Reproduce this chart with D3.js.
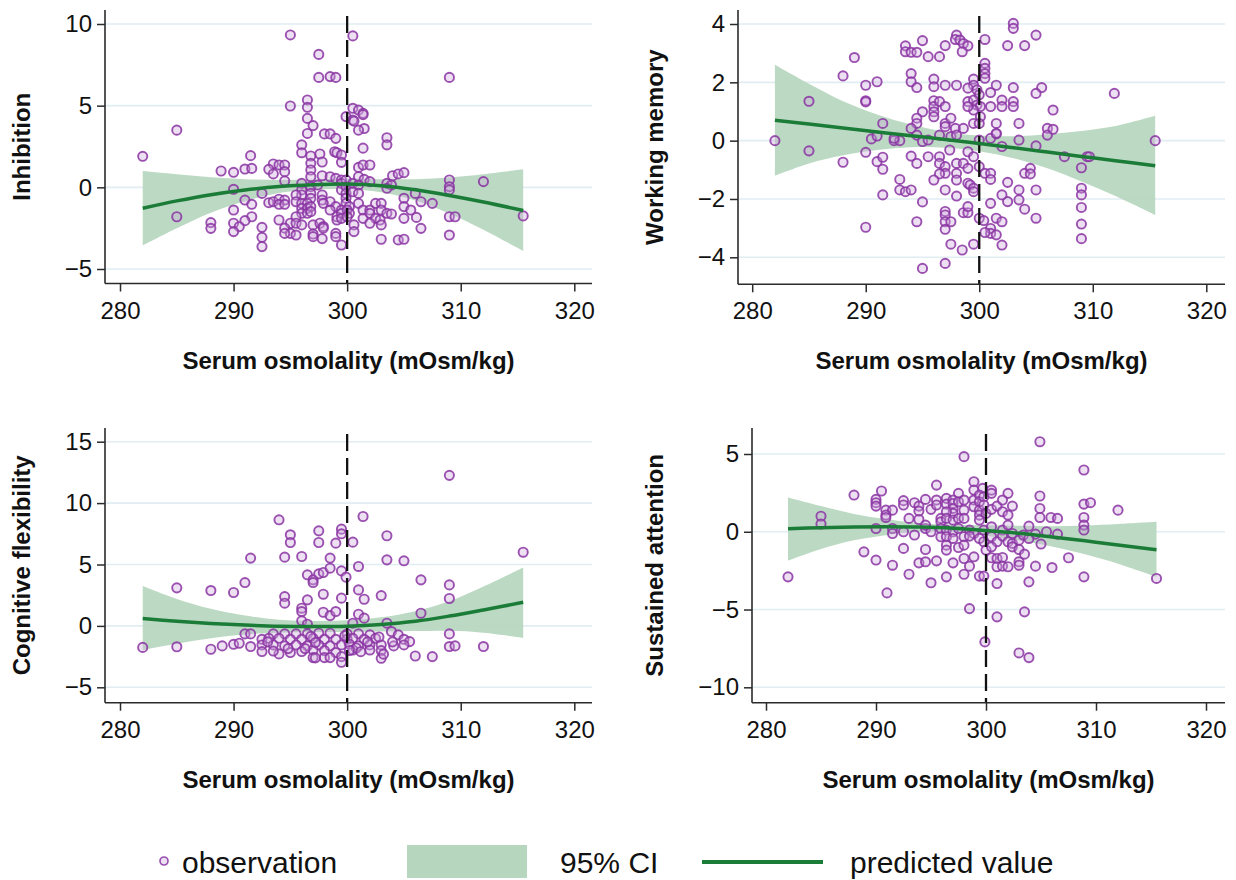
<!DOCTYPE html>
<html><head><meta charset="utf-8">
<script src="https://cdn.jsdelivr.net/npm/d3@7"></script>
<style>body{margin:0;background:#fff}</style>
</head><body>
<svg id="chart" width="1236" height="880"></svg>
<script>
// ---------------- DATA ----------------
const xTicks = [280, 290, 300, 310, 320];
const cutoff = 300;
const fitX = [282, 285, 288, 291, 294, 297, 300, 303, 306, 309, 312, 315.5];

// Inhibition
const inhibitionTicks = [-5, 0, 5, 10];
const inhibitionFit = [-1.28, -0.83, -0.45, -0.16, 0.05, 0.16, 0.2, 0.1, -0.15, -0.5, -0.9, -1.42];
const inhibitionHi  = [1.0, 0.8, 0.62, 0.5, 0.45, 0.48, 0.52, 0.5, 0.5, 0.6, 0.8, 1.1];
const inhibitionLo  = [-3.55, -2.5, -1.55, -0.85, -0.35, -0.15, -0.12, -0.3, -0.8, -1.6, -2.6, -3.9];
const inhibitionObs = [
[295.0,9.33],[300.5,9.27],[297.5,8.14],[297.5,6.73],[298.5,6.78],[299.0,6.73],[309.0,6.73],
[296.5,5.35],[296.5,4.9],[295.0,4.98],[296.5,4.22],[297.0,3.78],
[300.5,4.84],[301.0,4.73],[301.4,4.53],[301.4,4.45],[299.9,4.33],[300.5,4.12],[300.6,4.05],[301.5,3.6],[301.0,3.5],
[296.5,3.3],[298.0,3.27],[298.5,3.27],[299.0,3.0],[303.5,3.04],[303.5,2.6],
[296.0,2.6],[296.0,2.12],[301.4,2.4],
[296.8,1.92],[297.6,2.04],[298.9,2.18],[299.1,2.12],[299.5,1.98],[291.5,1.94],
[296.8,1.47],[297.8,1.55],[299.5,1.53],[293.5,1.43],[294.0,1.37],[294.5,1.37],[293.1,1.1],
[291.0,1.12],[291.6,1.16],[288.9,1.0],[290.0,0.92],[294.5,0.96],[293.5,0.82],
[296.8,1.06],[296.8,0.65],[297.8,0.71],[298.5,0.65],[299.0,0.55],[299.5,0.45],
[301.0,1.22],[301.4,1.37],[302.0,1.37],[301.0,0.65],[301.5,0.49],[302.0,0.35],
[304.0,0.71],[304.5,0.82],[305.0,0.9],[303.5,0.24],[303.9,0.14],[303.5,-0.06],
[294.5,0.39],[290.0,-0.12],
[296.0,0.24],[296.0,-0.16],[296.0,-0.47],[296.8,0.04],[296.8,-0.37],[296.8,-0.67],[297.4,0.14],
[299.5,0.24],[299.5,-0.16],[299.9,0.45],[299.9,0.04],[299.9,-0.37],[299.9,-0.67],[299.9,-0.98],[300.2,-1.18],
[300.5,0.24],[300.5,-0.27],[301.0,0.14],[301.0,-0.37],
[292.5,-0.37],[291.0,-0.78],[291.6,-1.04],
[293.1,-0.94],[293.5,-0.88],[294.0,-0.73],[294.5,-0.78],[294.0,-1.04],[294.5,-1.04],
[295.5,-0.47],[295.5,-0.88],
[296.0,-0.98],[296.5,-0.98],[296.0,-1.29],[296.5,-1.29],[296.0,-1.59],[296.5,-1.59],[296.8,-1.18],[296.8,-1.49],
[297.8,-0.47],[297.8,-0.78],[298.5,-0.88],[299.0,-1.18],[299.5,-1.39],[298.5,-1.39],[297.9,-0.98],
[290.0,-1.39],[290.0,-2.2],[291.6,-1.8],[291.0,-2.04],[290.5,-2.41],
[288.0,-2.16],[288.0,-2.51],[290.0,-2.71],[292.5,-2.45],[292.5,-3.06],[292.5,-3.63],
[294.0,-2.0],[295.0,-2.2],[294.5,-2.5],[295.5,-1.8],[295.5,-2.2],[295.0,-2.82],[294.5,-2.82],[295.5,-2.92],
[296.0,-2.3],[297.0,-2.3],[297.6,-2.2],[297.9,-2.4],[297.9,-2.5],
[297.0,-2.86],[297.0,-3.02],[297.8,-3.14],[299.0,-2.82],[299.0,-3.02],[299.5,-3.53],
[299.1,-1.8],[299.1,-2.0],[299.5,-1.59],[299.5,-1.9],[300.0,-1.39],[300.2,-1.59],[300.0,-1.8],
[300.6,-2.3],[300.6,-2.71],
[301.0,-0.98],[301.4,-1.39],[301.4,-1.9],[302.0,-1.39],[302.0,-1.59],[302.5,-1.9],[302.9,-2.0],[302.5,-0.98],[303.0,-0.98],[303.0,-1.39],
[302.0,-2.2],[303.0,-2.3],[303.5,-1.59],[303.9,-1.63],[303.0,-3.18],[304.5,-3.22],[305.0,-3.18],
[305.0,-0.67],[305.0,-1.18],[305.0,-1.9],[305.6,-1.39],[306.0,-0.37],[306.5,-0.88],[307.5,-0.98],
[306.1,-1.84],[306.5,-2.51],
[309.0,0.45],[309.0,0.04],[309.0,-0.16],[309.0,-1.8],[309.5,-1.8],[309.0,-2.92],
[312.0,0.35],[282.0,1.9],[285.0,3.5],[285.0,-1.8],[315.5,-1.75]
];

// Working memory
const memoryTicks = [-4, -2, 0, 2, 4];
const memoryFit = [0.7, 0.57, 0.43, 0.3, 0.17, 0.04, -0.1, -0.24, -0.39, -0.54, -0.69, -0.86];
const memoryHi  = [2.6, 1.95, 1.35, 0.9, 0.55, 0.3, 0.18, 0.15, 0.22, 0.33, 0.5, 0.85];
const memoryLo  = [-1.2, -0.78, -0.5, -0.32, -0.23, -0.24, -0.36, -0.6, -0.95, -1.4, -1.9, -2.55];
const memoryObs = [
[303.0,4.02],[303.0,3.85],[305.0,3.62],
[298.0,3.62],[297.9,3.47],[298.3,3.45],[298.6,3.33],[299.0,3.25],[298.5,3.05],
[300.5,3.47],[302.5,3.26],[304.0,3.26],
[295.0,3.43],[297.0,3.26],[296.5,2.88],[295.5,2.88],
[293.5,3.25],[293.5,3.05],[294.0,3.03],[294.5,3.03],
[289.0,2.85],[288.0,2.22],[290.0,1.9],[291.0,2.02],
[294.0,2.3],[294.0,2.02],[294.5,1.82],
[296.0,2.11],[296.0,1.85],[297.0,1.9],[298.0,1.9],
[299.5,2.11],[299.5,1.9],[299.8,1.74],[299.0,1.8],[300.0,1.57],
[300.5,2.65],[300.5,2.48],[300.5,2.3],[300.5,2.14],
[301.5,1.9],[301.0,1.65],[303.0,1.82],[305.5,1.82],[305.0,1.62],
[290.0,1.37],[290.0,1.33],
[296.0,1.37],[296.0,1.17],[296.5,1.34],[297.0,1.17],[296.0,0.99],[296.0,0.82],[295.0,0.99],[294.5,0.77],[294.5,0.59],
[299.0,1.34],[299.5,1.39],[299.8,1.22],[300.1,1.17],[299.5,1.05],[300.1,0.82],[299.0,1.17],
[301.0,1.17],[302.0,1.39],[302.0,1.17],[303.0,1.34],[303.0,1.17],[303.5,0.59],[306.5,1.05],
[297.0,0.59],[297.0,0.48],[297.5,0.77],[297.9,0.42],[298.6,0.42],[299.5,0.59],[300.0,0.59],[301.5,0.59],[301.5,0.23],
[291.5,0.59],[294.0,0.42],[294.5,0.19],[295.0,-0.03],
[290.5,0.06],[291.0,0.16],[292.5,0.0],[293.0,0.0],[292.5,0.08],
[295.5,0.02],[296.5,0.19],[297.5,0.14],[298.0,0.19],
[300.0,0.02],[301.0,0.08],[301.5,0.25],[302.0,-0.2],[303.5,0.02],[305.0,-0.18],
[306.0,0.42],[306.0,0.19],[306.5,0.39],[307.5,-0.55],[309.5,-0.55],[309.0,-0.93],
[311.9,1.62],
[290.0,-0.4],[288.0,-0.74],[291.0,-0.72],[291.5,-0.57],[291.5,-0.98],
[294.0,-0.53],[294.5,-0.78],[295.5,-0.55],[296.5,-0.55],[296.5,-0.78],[297.0,-0.89],[297.4,-0.32],
[298.0,-0.78],[298.6,-0.78],[299.0,-0.95],[299.0,-0.38],[299.5,-0.55],
[297.0,-1.12],[296.5,-1.14],[296.0,-1.35],[298.0,-1.12],[298.0,-1.35],[299.0,-1.46],[299.2,-1.52],[299.5,-1.63],[299.5,-1.75],
[300.0,-0.89],[300.5,-1.12],[301.0,-1.12],[301.0,-1.33],
[302.5,-1.43],[303.5,-1.69],[304.0,-1.12],[304.5,-0.95],[304.5,-1.14],[305.0,-1.69],
[293.0,-1.33],[293.0,-1.69],[293.5,-1.75],[294.0,-1.69],[291.5,-1.86],
[297.0,-1.69],[298.0,-1.9],[295.0,-2.1],
[298.6,-2.47],[299.0,-2.47],[299.0,-2.26],[297.0,-2.43],[297.0,-2.55],[297.0,-2.78],[297.5,-2.78],[297.0,-3.04],
[300.0,-2.66],[300.4,-2.74],[301.0,-3.01],[301.0,-3.18],[300.5,-3.15],[301.5,-2.66],[302.0,-2.78],[301.5,-3.23],
[301.0,-2.15],[302.0,-1.86],[302.5,-2.09],[303.5,-2.03],[304.0,-2.35],[305.0,-2.66],
[294.5,-2.78],[290.0,-2.97],
[297.5,-3.55],[298.5,-3.75],[299.5,-3.55],[302.0,-3.58],
[295.0,-4.38],[297.0,-4.21],
[309.0,-1.63],[309.0,-1.86],[309.0,-2.29],[309.0,-2.86],[309.0,-3.36],
[282.0,0.0],[285.0,1.35],[285.0,-0.35],[315.5,0.0],[309.7,-0.55]
];

// Cognitive flexibility
const flexTicks = [-5, 0, 5, 10, 15];
const flexFit = [0.6, 0.38, 0.2, 0.07, -0.02, -0.05, -0.02, 0.12, 0.38, 0.8, 1.3, 1.92];
const flexHi  = [3.25, 2.2, 1.4, 0.85, 0.5, 0.4, 0.45, 0.7, 1.2, 2.0, 3.2, 4.75];
const flexLo  = [-1.95, -1.45, -1.0, -0.7, -0.55, -0.5, -0.5, -0.45, -0.42, -0.4, -0.55, -0.97];
const flexObs = [
[309.0,12.26],[294.0,8.64],[301.4,8.91],
[295.0,7.42],[295.0,6.79],[297.5,7.74],[297.5,6.79],[299.5,7.88],[299.5,7.5],[299.0,6.74],[300.5,6.82],[303.5,7.34],
[291.5,5.52],[294.5,5.6],[296.0,5.65],[298.5,5.52],[303.5,5.38],[305.0,5.3],
[296.5,4.16],[297.0,3.75],[297.0,3.53],[297.5,4.24],[297.9,4.35],[298.5,4.7],[299.5,4.48],[299.9,3.97],
[301.0,4.84],[301.0,2.93],[301.5,2.17],[303.0,2.47],[299.5,2.26],[297.9,2.58],[296.5,2.12],[294.5,2.39],[294.5,1.85],
[291.0,3.53],[290.0,2.72],[288.0,2.88],
[306.5,3.75],[309.0,3.34],[309.0,2.23],
[296.0,1.44],[296.0,1.17],[297.9,1.11],[298.5,0.84],[299.0,1.17],[301.0,0.95],[301.5,0.63],[300.5,0.22],[303.5,0.22],
[306.5,1.03],[296.0,0.41],[296.5,0.14],
[309.0,-0.65],[309.0,-1.68],[309.5,-1.63],[312.0,-1.68],
[306.0,-2.45],[307.5,-2.5],[288.0,-1.9],[289.0,-1.63],[290.0,-1.5],
[291.0,-0.65],[291.5,-0.65],[293.5,-0.65],[294.5,-0.65],[295.5,-0.65],[296.5,-0.65],[297.5,-0.6],[298.5,-0.6],[300.0,-0.65],[301.0,-0.65],[302.0,-0.73],[303.9,-0.46],[304.5,-0.73],
[292.5,-1.09],[293.1,-1.01],[294.0,-1.01],[295.0,-1.09],[296.0,-1.09],[297.0,-1.01],[298.0,-1.09],[299.0,-1.09],[300.0,-1.09],[300.5,-1.01],[301.5,-1.09],[302.5,-1.01],[305.0,-1.09],[305.5,-1.28],
[290.5,-1.41],[291.5,-1.68],[292.5,-1.55],[293.5,-1.55],[294.5,-1.63],[295.5,-1.55],[296.5,-1.63],[297.5,-1.55],[298.5,-1.63],[299.5,-1.55],[300.2,-1.49],[301.0,-1.63],[302.0,-1.55],[303.0,-1.55],[304.1,-1.63],[305.0,-1.55],
[292.5,-2.09],[294.0,-2.28],[295.0,-2.17],[296.0,-2.09],[297.0,-1.96],[298.0,-2.01],[299.0,-2.17],[300.5,-1.96],[302.0,-1.96],[303.0,-2.01],
[297.0,-2.58],[298.0,-2.58],[298.5,-2.58],[303.0,-2.64],[299.5,-2.5],[299.5,-2.96],
[293.0,-1.3],[296.8,-0.85],[297.2,-1.35],[299.8,-0.8],[300.8,-1.8],[301.8,-1.3],[302.8,-0.9],[303.2,-2.3],[304.0,-1.3],
[297.2,-2.6],[296.3,-1.85],[294.8,-1.85],[300.2,-2.0],[301.2,-2.1],[293.5,-2.05],
[282.0,-1.75],[285.0,3.1],[285.0,-1.7],[315.5,6.0]
];

// Sustained attention
const attentionTicks = [-10, -5, 0, 5];
const attentionFit = [0.2, 0.26, 0.3, 0.32, 0.3, 0.23, 0.08, -0.1, -0.33, -0.58, -0.85, -1.15];
const attentionHi  = [2.2, 1.65, 1.15, 0.8, 0.55, 0.45, 0.42, 0.38, 0.35, 0.4, 0.5, 0.64];
const attentionLo  = [-1.85, -1.1, -0.55, -0.2, 0.02, 0.02, -0.25, -0.55, -0.95, -1.45, -2.05, -2.9];
const attentionObs = [
[304.9,5.79],[298.0,4.83],[308.9,3.97],
[298.9,3.22],[298.9,2.68],[295.5,3.0],[297.5,2.47],[299.7,2.79],[300.5,2.68],[300.5,2.47],
[288.0,2.36],[290.5,2.62],[290.0,2.08],[290.0,1.87],[290.0,1.65],[290.9,1.39],[291.5,1.39],[290.9,1.07],[290.9,0.92],
[292.5,2.0],[292.5,1.72],[293.5,1.87],[293.9,1.65],[293.9,1.33],[294.5,2.08],[295.0,1.44],[295.5,2.04],[295.5,1.72],
[296.4,2.15],[296.4,1.78],[297.0,2.04],[297.0,1.82],[297.0,1.5],[297.0,1.18],[297.5,1.93],[298.0,2.04],[298.0,1.39],
[296.4,1.29],[295.9,0.86],[295.9,0.64],[296.4,0.86],[297.0,0.75],[297.5,0.86],[298.0,0.86],
[298.9,2.04],[298.9,1.61],[299.4,2.36],[299.4,1.93],[299.4,1.39],[299.4,1.07],[299.4,0.75],[299.8,2.25],[299.8,1.72],
[300.0,1.18],[300.5,1.44],[301.0,1.65],[301.5,2.04],[302.0,2.47],[301.5,1.29],[302.0,1.07],[302.4,1.65],
[304.9,2.3],[304.9,1.5],[304.9,0.92],[305.9,0.92],[306.5,0.86],[308.9,1.78],[309.5,1.87],[308.9,0.92],[308.9,0.43],[308.9,0.11],[312.0,1.39],
[290.0,0.21],[291.5,0.21],[291.5,-0.11],[292.5,0.0],[293.5,-0.21],[294.5,0.21],[295.0,0.0],
[293.0,0.86],[293.9,0.79],[294.5,0.43],
[295.9,0.21],[296.4,0.11],[297.0,0.0],[297.5,0.21],[298.5,0.11],[298.9,-0.11],[299.8,0.11],[300.5,0.32],[301.5,0.11],[302.0,0.43],[302.4,-0.11],[303.9,0.36],[304.5,-0.15],[305.5,0.0],[306.5,-0.15],
[295.9,-0.32],[296.4,-0.32],[297.0,-0.43],[298.0,-0.32],[298.5,-0.28],[299.4,-0.43],[299.8,-0.64],[300.5,-0.32],[301.0,-0.64],[301.5,-0.28],[302.0,-0.64],[302.4,-0.75],[303.0,-0.54],[303.4,-0.21],[303.9,-0.43],[305.0,-0.79],
[288.9,-1.29],[290.0,-1.82],[291.5,-2.15],[292.5,-1.07],[293.0,-2.73],[293.9,-2.0],[294.5,-1.14],[294.5,-1.93],[295.0,-3.28],[295.5,-1.87],
[296.4,-0.86],[296.4,-1.18],[296.4,-2.9],[297.0,-2.0],[297.5,-1.01],[298.0,-0.86],[298.0,-1.72],[298.0,-2.73],[298.5,-2.21],[298.9,-1.61],
[299.4,-2.85],[299.8,-2.85],[300.0,-1.18],[300.5,-0.97],[300.5,-1.67],[301.0,-1.72],[301.0,-2.25],[301.0,-3.33],[301.5,-1.65],[301.5,-2.21],[302.0,-2.25],
[302.4,-0.97],[303.0,-1.14],[303.0,-1.93],[303.0,-2.15],[303.5,-1.44],[303.9,-3.22],[304.5,-2.21],[306.0,-2.3],[307.5,-1.67],[308.9,-2.9],
[291.0,-3.93],[298.5,-4.94],[301.0,-5.47],[303.5,-5.15],[299.9,-7.08],[303.0,-7.79],[303.9,-8.09],
[282.0,-2.9],[285.0,1.0],[285.0,0.5],[315.5,-3.0]
];

// ---------------- LAYOUT ----------------
const FONT = "'Liberation Sans', Arial, Helvetica, sans-serif";
const COL = {
  grid: '#e1edf2', band: '#b6d6be', line: '#1b7c38',
  ptStroke: 'rgba(138,52,162,0.85)', ptFill: 'rgba(205,165,222,0.35)', axis: '#2b2b2b'
};
const panels = [
  {title:'Inhibition', obs:inhibitionObs, fit:inhibitionFit, hi:inhibitionHi, lo:inhibitionLo, yTicks:inhibitionTicks,
   axisX:105, right:592, top:10, axisY:283.5, x0:120, x1:574.3, yd:[-5,10], yr:[269,24], titleX:22},
  {title:'Working memory', obs:memoryObs, fit:memoryFit, hi:memoryHi, lo:memoryLo, yTicks:memoryTicks,
   axisX:738, right:1225, top:10, axisY:284.3, x0:752.2, x1:1206.3, yd:[-4,4], yr:[257.3,24], titleX:655},
  {title:'Cognitive flexibility', obs:flexObs, fit:flexFit, hi:flexHi, lo:flexLo, yTicks:flexTicks,
   axisX:105, right:592, top:428, axisY:702.7, x0:120, x1:574.3, yd:[-5,15], yr:[687.3,441.7], titleX:22},
  {title:'Sustained attention', obs:attentionObs, fit:attentionFit, hi:attentionHi, lo:attentionLo, yTicks:attentionTicks,
   axisX:752, right:1225, top:428, axisY:702.7, x0:766, x1:1206, yd:[-10,5], yr:[687.3,454], titleX:655}
];

const svg = d3.select('#chart');
svg.append('rect').attr('width',1236).attr('height',880).attr('fill','#fff');

panels.forEach(p => {
  const g = svg.append('g');
  const x = d3.scaleLinear().domain([xTicks[0], xTicks[xTicks.length-1]]).range([p.x0, p.x1]);
  const y = d3.scaleLinear().domain(p.yd).range(p.yr);

  g.selectAll('line.grid').data(p.yTicks).join('line')
    .attr('x1', p.axisX).attr('x2', p.right)
    .attr('y1', d => y(d)).attr('y2', d => y(d))
    .attr('stroke', COL.grid).attr('stroke-width', 1.6);

  const fitData = fitX.map((xv, i) => ({x: xv, f: p.fit[i], hi: p.hi[i], lo: p.lo[i]}));

  g.append('path').datum(fitData)
    .attr('d', d3.area().x(d => x(d.x)).y0(d => y(d.lo)).y1(d => y(d.hi)).curve(d3.curveCatmullRom))
    .attr('fill', COL.band).attr('opacity', 0.92);

  g.selectAll('circle.obs').data(p.obs).join('circle')
    .attr('cx', d => x(d[0])).attr('cy', d => y(d[1])).attr('r', 4.6)
    .attr('fill', COL.ptFill).attr('stroke', COL.ptStroke).attr('stroke-width', 1.9);

  g.append('line')
    .attr('x1', x(cutoff)).attr('x2', x(cutoff)).attr('y1', p.top + 6).attr('y2', p.axisY)
    .attr('stroke', '#111').attr('stroke-width', 2.3).attr('stroke-dasharray', '17,7');

  g.append('path').datum(fitData)
    .attr('d', d3.line().x(d => x(d.x)).y(d => y(d.f)).curve(d3.curveCatmullRom))
    .attr('fill', 'none').attr('stroke', COL.line).attr('stroke-width', 3.5);

  g.append('line').attr('x1', p.axisX).attr('x2', p.axisX).attr('y1', p.top).attr('y2', p.axisY)
    .attr('stroke', COL.axis).attr('stroke-width', 1.6);
  g.append('line').attr('x1', p.axisX).attr('x2', p.right).attr('y1', p.axisY).attr('y2', p.axisY)
    .attr('stroke', COL.axis).attr('stroke-width', 1.6);

  const yAxis = g.append('g').attr('transform', `translate(${p.axisX},0)`)
    .call(d3.axisLeft(y).tickValues(p.yTicks).tickSize(8).tickPadding(5).tickFormat(d3.format('d')));
  const xAxis = g.append('g').attr('transform', `translate(0,${p.axisY})`)
    .call(d3.axisBottom(x).tickValues(xTicks).tickSize(8).tickPadding(10).tickFormat(d3.format('d')));
  [yAxis, xAxis].forEach(a => {
    a.select('.domain').remove();
    a.selectAll('line').attr('stroke', COL.axis).attr('stroke-width', 1.5);
    a.selectAll('text').attr('font-family', FONT).attr('font-size', 24).attr('fill', '#111');
  });

  g.append('text').attr('x', (p.axisX + p.right) / 2).attr('y', p.axisY + 85)
    .attr('text-anchor', 'middle').attr('font-family', FONT).attr('font-weight', 'bold')
    .attr('font-size', 24).attr('fill', '#111').text('Serum osmolality (mOsm/kg)');
  const cy = (p.top + p.axisY) / 2;
  g.append('text').attr('transform', `translate(${p.titleX + 8},${cy}) rotate(-90)`)
    .attr('text-anchor', 'middle').attr('font-family', FONT).attr('font-weight', 'bold')
    .attr('font-size', 24).attr('fill', '#111').text(p.title);
});

// ---------------- LEGEND ----------------
const lg = svg.append('g').attr('font-family', FONT).attr('font-size', 30).attr('fill', '#111');
lg.append('circle').attr('cx', 164).attr('cy', 861).attr('r', 4)
  .attr('fill', COL.ptFill).attr('stroke', COL.ptStroke).attr('stroke-width', 1.7);
lg.append('text').attr('x', 182).attr('y', 873).text('observation');
lg.append('rect').attr('x', 407).attr('y', 845).attr('width', 120).attr('height', 33).attr('fill', COL.band);
lg.append('text').attr('x', 560).attr('y', 873).text('95% CI');
lg.append('line').attr('x1', 702).attr('x2', 823).attr('y1', 862).attr('y2', 862)
  .attr('stroke', COL.line).attr('stroke-width', 4);
lg.append('text').attr('x', 850).attr('y', 873).text('predicted value');
</script>
</body></html>
